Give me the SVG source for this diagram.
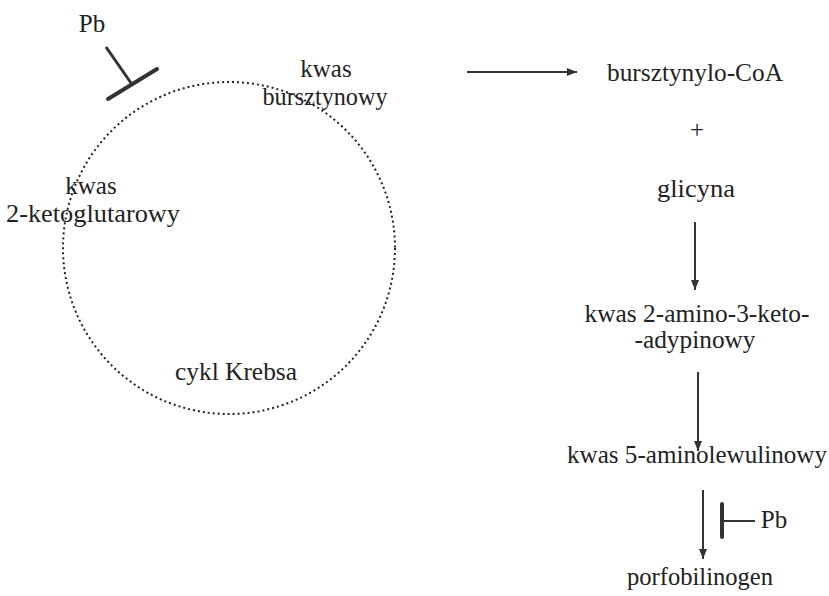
<svg xmlns="http://www.w3.org/2000/svg" width="829" height="596" viewBox="0 0 829 596">
<defs>
<style>
text{font-family:"Liberation Serif","Times New Roman",serif;font-size:25px;fill:#222;text-anchor:middle}
.ln{stroke:#333;stroke-width:2;fill:none}
.bar{stroke:#333;stroke-width:4;fill:none;stroke-linecap:round}
</style>
<marker id="ah" viewBox="0 0 10 8" refX="10" refY="4" markerWidth="10" markerHeight="8" markerUnits="userSpaceOnUse" orient="auto">
<path d="M0,0 L10,4 L0,8 Z" fill="#333"/>
</marker>
</defs>
<rect width="829" height="596" fill="#fff"/>
<g id="krebs">
<circle cx="229" cy="248" r="166" fill="none" stroke="#222" stroke-width="2" stroke-dasharray="2 3"/>
<text x="236" y="380" textLength="122" lengthAdjust="spacingAndGlyphs">cykl Krebsa</text>
</g>
<g id="pb-krebs">
<text x="92" y="32">Pb</text>
<line class="ln" x1="106" y1="47" x2="131" y2="83" style="stroke-width:3"/>
<line class="bar" x1="108" y1="99" x2="157" y2="69"/>
</g>
<g id="kwas-bursztynowy">
<text x="326" y="77">kwas</text>
<text x="325" y="105" textLength="125" lengthAdjust="spacingAndGlyphs">bursztynowy</text>
</g>
<g id="kwas-ketoglutarowy">
<text x="91" y="194">kwas</text>
<text x="93" y="222" textLength="174" lengthAdjust="spacingAndGlyphs">2-ketoglutarowy</text>
</g>
<g id="bursztynylo-coa">
<text x="695" y="81" textLength="176" lengthAdjust="spacingAndGlyphs">bursztynylo-CoA</text>
</g>
<g id="plus">
<text x="697" y="138">+</text>
</g>
<g id="glicyna">
<text x="696" y="197" textLength="78" lengthAdjust="spacingAndGlyphs">glicyna</text>
</g>
<g id="aminoketoadypinowy">
<text x="697" y="322" textLength="225" lengthAdjust="spacingAndGlyphs">kwas 2-amino-3-keto-</text>
<text x="695" y="348" textLength="121" lengthAdjust="spacingAndGlyphs">-adypinowy</text>
</g>
<g id="aminolewulinowy">
<text x="697" y="463" textLength="260" lengthAdjust="spacingAndGlyphs">kwas 5-aminolewulinowy</text>
</g>
<g id="porfobilinogen">
<text x="700" y="585" textLength="146" lengthAdjust="spacingAndGlyphs">porfobilinogen</text>
</g>
<g id="pb-right">
<text x="774" y="528">Pb</text>
</g>
<g id="connectors">
<line class="ln" x1="467" y1="72" x2="577" y2="72" marker-end="url(#ah)"/>
<line class="ln" x1="695" y1="222" x2="695" y2="290" marker-end="url(#ah)"/>
<line class="ln" x1="698" y1="372" x2="698" y2="451" marker-end="url(#ah)"/>
<line class="ln" x1="703" y1="490" x2="703" y2="559" marker-end="url(#ah)"/>
<line class="bar" x1="722" y1="504" x2="722" y2="537"/>
<line class="ln" x1="722" y1="521" x2="755" y2="521"/>
</g>
</svg>
